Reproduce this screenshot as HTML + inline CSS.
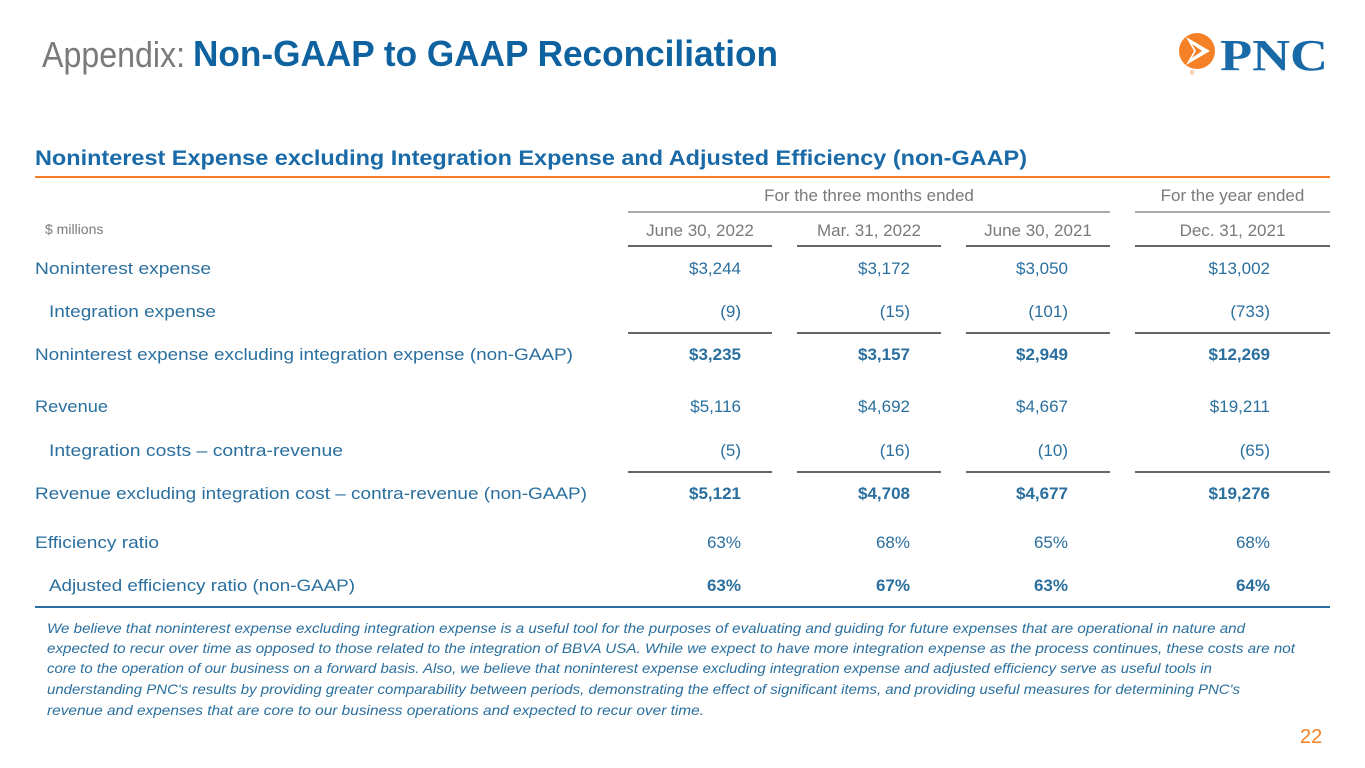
<!DOCTYPE html>
<html><head><meta charset="utf-8">
<style>
body{margin:0;width:1365px;height:768px;background:#fff;position:relative;overflow:hidden;font-family:"Liberation Sans",sans-serif;}
.t{position:absolute;white-space:nowrap;transform-origin:left center;line-height:1;}
.r{position:absolute;white-space:nowrap;transform-origin:right center;line-height:1;text-align:right;}
.c{position:absolute;white-space:nowrap;text-align:center;line-height:1;}
.ln{position:absolute;height:1px;background:#666;}
.blue{color:#2a6f9e;}
.gray{color:#7a7a7a;}
.b{font-weight:bold;}
.v{font-size:17px;color:#2a6f9e;}
.lab{font-size:17px;color:#2a6f9e;}
.fn{font-size:14px;font-style:italic;color:#2a6f9e;}
</style></head><body>
<div class="t" style="left:42px;top:37px;font-size:36px;color:#7a7a7a;" data-w="143">Appendix:</div>
<div class="t b" style="left:193px;top:36px;font-size:36px;color:#0f62a0;" data-w="585">Non-GAAP to GAAP Reconciliation</div>

<svg style="position:absolute;left:1172px;top:28px" width="160" height="52" viewBox="0 0 160 52">
<circle cx="25" cy="23" r="18" fill="#f58025"/>
<polygon points="14,9 38,23 14,37 22,23" fill="#fff"/>
<polygon points="20,16 30,23 20,30 24,23" fill="#f58025"/>
<text x="18" y="47" font-size="6" fill="#f58025">®</text>
<text x="48" y="42" font-family="Liberation Serif,serif" font-weight="bold" font-size="44" fill="#1a6aa8" textLength="108" lengthAdjust="spacingAndGlyphs">PNC</text>
</svg>

<div class="t b" style="left:35px;top:148px;font-size:21px;color:#1a6aa8;" data-w="992">Noninterest Expense excluding Integration Expense and Adjusted Efficiency (non-GAAP)</div>
<div class="ln" style="left:35px;top:176px;width:1295px;height:2px;background:#f58025;"></div>

<div class="c gray" style="left:628px;width:482px;top:187px;font-size:17px;">For the three months ended</div>
<div class="ln" style="left:628px;top:211px;width:482px;background:#aaa;height:2px"></div>
<div class="c gray" style="left:1135px;width:195px;top:187px;font-size:17px;">For the year ended</div>
<div class="ln" style="left:1135px;top:211px;width:195px;background:#aaa;height:2px"></div>

<div class="t gray" style="left:45px;top:222px;font-size:14px;">$ millions</div>

<div id="tbl"></div>

<div class="ln" style="left:35px;top:606px;width:1295px;background:#2a6f9e;height:2px"></div>

<div class="t fn" style="left:47px;top:621px;" data-w="1198">We believe that noninterest expense excluding integration expense is a useful tool for the purposes of evaluating and guiding for future expenses that are operational in nature and</div>
<div class="t fn" style="left:47px;top:641px;" data-w="1248">expected to recur over time as opposed to those related to the integration of BBVA USA. While we expect to have more integration expense as the process continues, these costs are not</div>
<div class="t fn" style="left:47px;top:661px;" data-w="1165">core to the operation of our business on a forward basis. Also, we believe that noninterest expense excluding integration expense and adjusted efficiency serve as useful tools in</div>
<div class="t fn" style="left:47px;top:682px;" data-w="1193">understanding PNC's results by providing greater comparability between periods, demonstrating the effect of significant items, and providing useful measures for determining PNC's</div>
<div class="t fn" style="left:47px;top:703px;" data-w="657">revenue and expenses that are core to our business operations and expected to recur over time.</div>

<div class="t" style="left:1300px;top:727px;font-size:20px;color:#f58025;">22</div>

<script>
const colHeaders=["June 30, 2022","Mar. 31, 2022","June 30, 2021","Dec. 31, 2021"];
const rowLabels=["Noninterest expense","Integration expense","Noninterest expense excluding integration expense (non-GAAP)","Revenue","Integration costs \u2013 contra-revenue","Revenue excluding integration cost \u2013 contra-revenue (non-GAAP)","Efficiency ratio","Adjusted efficiency ratio (non-GAAP)"];
const rowY=[269,312,355,407,451,494,543,586];
const rowIndent=[0,1,0,0,1,0,0,1];
const rowBold=[0,0,1,0,0,1,0,1];
const labelW=[176,167,538,73,294,552,124,306];
const col1=["$3,244","(9)","$3,235","$5,116","(5)","$5,121","63%","63%"];
const col2=["$3,172","(15)","$3,157","$4,692","(16)","$4,708","68%","67%"];
const col3=["$3,050","(101)","$2,949","$4,667","(10)","$4,677","65%","63%"];
const col4=["$13,002","(733)","$12,269","$19,211","(65)","$19,276","68%","64%"];
const cols=[col1,col2,col3,col4];
const colSpan=[[628,772],[797,941],[966,1110],[1135,1330]];
const colRight=[741,910,1068,1270];
const ruleAfter=[1,4];
const tbl=document.getElementById('tbl');
colHeaders.forEach((h,i)=>{
  const d=document.createElement('div');
  d.className='c gray';
  
  
  d.style.cssText=`left:${colSpan[i][0]}px;width:${colSpan[i][1]-colSpan[i][0]}px;top:222px;font-size:17px;`;
  d.textContent=h;tbl.appendChild(d);
  const l=document.createElement('div');
  l.className='ln';
  
  
  l.style.cssText=`left:${colSpan[i][0]}px;width:${colSpan[i][1]-colSpan[i][0]}px;top:245px;height:2px;`;
  tbl.appendChild(l);
  ruleAfter.forEach(r=>{
    const l2=document.createElement('div');
    l2.className='ln';
    
    
    l2.style.cssText=`left:${colSpan[i][0]}px;width:${colSpan[i][1]-colSpan[i][0]}px;top:${rowY[r]+20}px;height:2px;`;
    tbl.appendChild(l2);
  });
});
rowLabels.forEach((lab,r)=>{
  const d=document.createElement('div');
  d.className='t lab';
  
  
  d.style.left=(rowIndent[r]?49:35)+'px';
  d.style.top=(rowY[r]-9)+'px';
  d.dataset.w=labelW[r];
  d.textContent=lab;tbl.appendChild(d);
  cols.forEach((c,i)=>{
    const v=document.createElement('div');
    v.className='r v'+(rowBold[r]?' b':'');
    
    
    v.style.right=(1365-colRight[i])+'px';
    v.style.top=(rowY[r]-9)+'px';
    v.textContent=c[r];tbl.appendChild(v);
  });
});
document.querySelectorAll('[data-w]').forEach(el=>{
  const w=el.getBoundingClientRect().width;
  const tw=+el.dataset.w;
  if(w>0)el.style.transform=`scaleX(${tw/w})`;
});
</script>
</body></html>
